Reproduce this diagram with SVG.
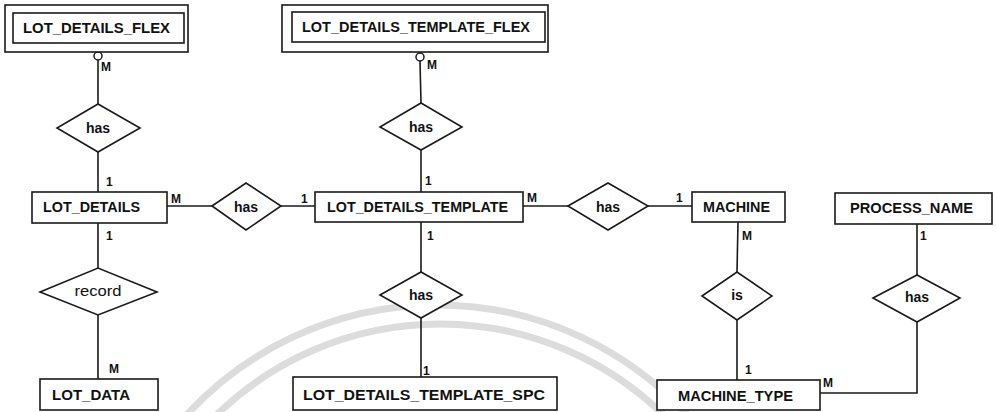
<svg xmlns="http://www.w3.org/2000/svg" width="996" height="412" viewBox="0 0 996 412">
<style>
.bg{fill:#ffffff}
.wm{fill:none;stroke:#dcdcdc;stroke-width:7}
.box{fill:#ffffff;stroke:#1a1a1a;stroke-width:1.6}
.dia{fill:#ffffff;stroke:#1a1a1a;stroke-width:1.6}
.ln{fill:none;stroke:#1a1a1a;stroke-width:1.6}
.opt{fill:#ffffff;stroke:#1a1a1a;stroke-width:1.5}
.et{font-family:"Liberation Sans",Arial,sans-serif;font-weight:bold;font-size:14px;fill:#111}
.rt{font-family:"Liberation Sans",Arial,sans-serif;font-weight:bold;font-size:14px;fill:#111;text-anchor:middle}
.rr{font-family:"Liberation Sans",Arial,sans-serif;font-size:14px;fill:#111;text-anchor:middle}
.cl{font-family:"Liberation Sans",Arial,sans-serif;font-weight:bold;font-size:12px;fill:#111}
</style>
<rect class="bg" x="0" y="0" width="996" height="412"/>
<g id="watermark">
<path class="wm" d="M182,420 A340,340 0 0,1 692,420"/>
<path class="wm" d="M211.5,420 A320,320 0 0,1 668.5,420"/>
</g>
<g id="connectors">
<circle class="opt" cx="98" cy="56" r="4"/>
<line class="ln" x1="98" y1="60" x2="98" y2="104"/>
<text class="cl" x="101" y="71">M</text>
<line class="ln" x1="98" y1="152" x2="98" y2="192"/>
<text class="cl" x="106" y="186">1</text>
<line class="ln" x1="98" y1="223" x2="98" y2="268"/>
<text class="cl" x="106" y="240">1</text>
<line class="ln" x1="98" y1="315" x2="98" y2="379"/>
<text class="cl" x="109" y="373">M</text>
<line class="ln" x1="167" y1="206" x2="212" y2="206"/>
<text class="cl" x="171" y="203">M</text>
<line class="ln" x1="281" y1="206" x2="315" y2="206"/>
<text class="cl" x="301" y="203">1</text>
<circle class="opt" cx="420" cy="57" r="4"/>
<line class="ln" x1="420" y1="61" x2="421" y2="103"/>
<text class="cl" x="427" y="69">M</text>
<line class="ln" x1="421" y1="150" x2="421" y2="192"/>
<text class="cl" x="425" y="185">1</text>
<line class="ln" x1="421" y1="222" x2="421" y2="272"/>
<text class="cl" x="427" y="240">1</text>
<line class="ln" x1="421" y1="318" x2="421" y2="377"/>
<text class="cl" x="423" y="375">1</text>
<line class="ln" x1="523" y1="206" x2="568" y2="206"/>
<text class="cl" x="527" y="202">M</text>
<line class="ln" x1="648" y1="206" x2="692" y2="206"/>
<text class="cl" x="676" y="202">1</text>
<line class="ln" x1="738" y1="222" x2="737" y2="272"/>
<text class="cl" x="742" y="240">M</text>
<line class="ln" x1="737" y1="320" x2="737" y2="380"/>
<text class="cl" x="745" y="374">1</text>
<line class="ln" x1="917" y1="224" x2="917" y2="275"/>
<text class="cl" x="920" y="240">1</text>
<polyline class="ln" points="917,322 917,393 820,393"/>
<text class="cl" x="823" y="387">M</text>
</g>
<g id="LOT_DETAILS_FLEX">
<rect class="box" x="5" y="5" width="183" height="47"/>
<rect class="box" x="13" y="13" width="171" height="30"/>
<text class="et" x="23" y="33" textLength="147" lengthAdjust="spacingAndGlyphs">LOT_DETAILS_FLEX</text>
</g>
<g id="LOT_DETAILS_TEMPLATE_FLEX">
<rect class="box" x="282" y="5" width="266" height="47"/>
<rect class="box" x="292" y="12" width="253" height="30"/>
<text class="et" x="302" y="32" textLength="228" lengthAdjust="spacingAndGlyphs">LOT_DETAILS_TEMPLATE_FLEX</text>
</g>
<g id="has1">
<polygon class="dia" points="98,104 140,128 98,152 57,128"/>
<text class="rt" x="98" y="133">has</text>
</g>
<g id="has3">
<polygon class="dia" points="421,103 462,127 421,150 380,127"/>
<text class="rt" x="421" y="132">has</text>
</g>
<g id="LOT_DETAILS">
<rect class="box" x="32" y="192" width="135" height="31"/>
<text class="et" x="43" y="212" textLength="97" lengthAdjust="spacingAndGlyphs">LOT_DETAILS</text>
</g>
<g id="has2">
<polygon class="dia" points="212,206 246,183 281,206 246,230"/>
<text class="rt" x="246" y="212">has</text>
</g>
<g id="LOT_DETAILS_TEMPLATE">
<rect class="box" x="315" y="192" width="208" height="30"/>
<text class="et" x="327" y="212" textLength="181" lengthAdjust="spacingAndGlyphs">LOT_DETAILS_TEMPLATE</text>
</g>
<g id="has4">
<polygon class="dia" points="568,206 608,183 648,206 608,230"/>
<text class="rt" x="608" y="212">has</text>
</g>
<g id="MACHINE">
<rect class="box" x="692" y="192" width="93" height="30"/>
<text class="et" x="703" y="212" textLength="67" lengthAdjust="spacingAndGlyphs">MACHINE</text>
</g>
<g id="PROCESS_NAME">
<rect class="box" x="835" y="193" width="157" height="31"/>
<text class="et" x="850" y="213" font-size="14.5" textLength="123" lengthAdjust="spacingAndGlyphs">PROCESS_NAME</text>
</g>
<g id="record">
<polygon class="dia" points="40,292 98,268 157,292 98,315"/>
<text class="rr" x="98" y="296" textLength="47" lengthAdjust="spacingAndGlyphs">record</text>
</g>
<g id="has5">
<polygon class="dia" points="380,295 421,272 462,295 421,318"/>
<text class="rt" x="421" y="300">has</text>
</g>
<g id="is">
<polygon class="dia" points="702,296 737,272 772,296 737,320"/>
<text class="rt" x="737" y="300" font-size="13">is</text>
</g>
<g id="has6">
<polygon class="dia" points="873,298 917,275 960,298 917,322"/>
<text class="rt" x="917" y="302">has</text>
</g>
<g id="LOT_DATA">
<rect class="box" x="40" y="379" width="118" height="31"/>
<text class="et" x="52" y="400" font-size="14.5" textLength="78" lengthAdjust="spacingAndGlyphs">LOT_DATA</text>
</g>
<g id="LOT_DETAILS_TEMPLATE_SPC">
<rect class="box" x="293" y="377" width="264" height="33"/>
<text class="et" x="303" y="400" font-size="15" textLength="242" lengthAdjust="spacingAndGlyphs">LOT_DETAILS_TEMPLATE_SPC</text>
</g>
<g id="MACHINE_TYPE">
<rect class="box" x="657" y="380" width="163" height="30"/>
<text class="et" x="678" y="401" font-size="14.5" textLength="115" lengthAdjust="spacingAndGlyphs">MACHINE_TYPE</text>
</g>
</svg>
